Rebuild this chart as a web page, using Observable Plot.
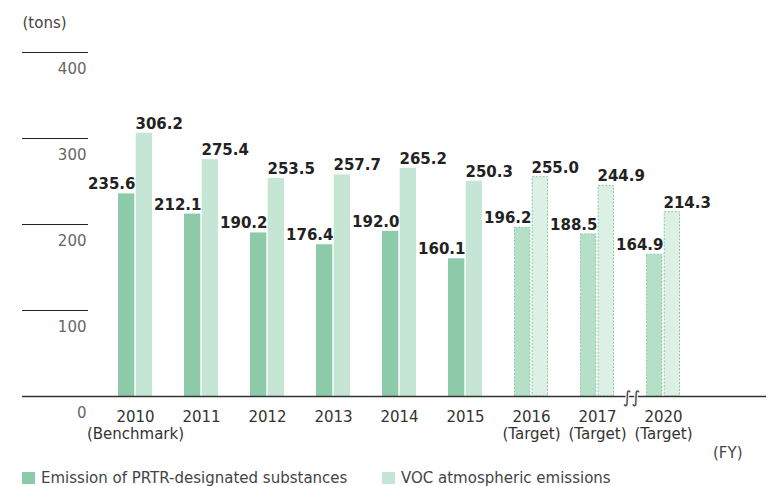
<!DOCTYPE html>
<html>
<head>
<meta charset="utf-8">
<script src="https://cdn.jsdelivr.net/npm/d3@7"></script>
<script src="https://cdn.jsdelivr.net/npm/@observablehq/plot@0.6"></script>
<style>
  html, body { margin: 0; padding: 0; background: #fff; }
  #wrap { position: relative; width: 768px; height: 486px; font-family: "DejaVu Sans", sans-serif; }
  #legend { position: absolute; left: 22px; top: 469px; font-size: 15px; color: #444; white-space: nowrap; }
  #legend .item { position: absolute; top: 0; }
  #legend .sw { position: absolute; top: 3px; left: 0; width: 13px; height: 12px; }
  #legend .lb { position: absolute; left: 19px; top: 0; line-height: 18px; }
</style>
</head>
<body>
<div id="wrap"></div>
<script>
const years = ["2010","2011","2012","2013","2014","2015","2016","2017","2020"];
const yearNotes = ["(Benchmark)","","","","","","(Target)","(Target)","(Target)"];
const prtr = [235.6, 212.1, 190.2, 176.4, 192.0, 160.1, 196.2, 188.5, 164.9];
const voc  = [306.2, 275.4, 253.5, 257.7, 265.2, 250.3, 255.0, 244.9, 214.3];
const isTarget = [false, false, false, false, false, false, true, true, true];
const yTicks = [0, 100, 200, 300, 400];
const seriesNames = ["Emission of PRTR-designated substances", "VOC atmospheric emissions"];

const C1 = "#8ccaa9", C2 = "#c6e6d5", C1t = "#b6dfc8", C2t = "#dcf0e5", Cdash = "#86c9a2";
const idx = years.map((_, i) => i);
const actual = idx.filter(i => !isTarget[i]);
const target = idx.filter(i => isTarget[i]);
const half = 33.9 / 2 + 0.75;
const font = "DejaVu Sans, sans-serif";

const chart = Plot.plot({
  width: 768,
  height: 486,
  marginTop: 52,
  marginBottom: 90,
  marginLeft: 22,
  marginRight: 2,
  style: { fontFamily: font, background: "#fff" },
  x: { type: "band", domain: years, range: [83.6, 713.7], padding: 0.49, axis: null },
  y: { domain: [0, 400], range: [396, 52], axis: null },
  marks: [
    Plot.ruleY(yTicks.filter(d => d > 0), { stroke: "#222", strokeWidth: 1, insetRight: 766 - 88 }),
    Plot.text(yTicks, { y: d => d, text: d => String(d), frameAnchor: "left", textAnchor: "end", lineAnchor: "bottom", dx: 64, dy: 21.5, fontSize: 15, fill: "#666" }),
    Plot.barY(actual, { x: i => years[i], y: i => prtr[i], fill: C1, insetRight: half }),
    Plot.barY(actual, { x: i => years[i], y: i => voc[i], fill: C2, insetLeft: half }),
    Plot.barY(target, { x: i => years[i], y: i => prtr[i], fill: C1t, stroke: Cdash, strokeDasharray: "2 1.5", insetRight: half + 0.5, insetLeft: 0.5 }),
    Plot.barY(target, { x: i => years[i], y: i => voc[i], fill: C2t, stroke: Cdash, strokeDasharray: "2 1.5", insetLeft: half + 0.5, insetRight: 0.5 }),
    Plot.ruleY([0], { stroke: "#333", strokeWidth: 1.5 }),
    Plot.text(idx, { x: i => years[i], y: i => prtr[i], text: i => prtr[i].toFixed(1), textAnchor: "end", lineAnchor: "bottom", dx: 0, dy: -4.5, fontSize: 15, fontWeight: "bold", fill: "#222" }),
    Plot.text(idx, { x: i => years[i], y: i => voc[i], text: i => voc[i].toFixed(1), textAnchor: "start", lineAnchor: "bottom", dx: 0, dy: -4.5, fontSize: 15, fontWeight: "bold", fill: "#222" }),
    Plot.text(idx, { x: i => years[i], text: i => yearNotes[i] ? years[i] + "\n" + yearNotes[i] : years[i], frameAnchor: "bottom", lineAnchor: "top", dy: 14, lineHeight: 1.1, fontSize: 15, fill: "#333" }),
    Plot.text(["∫∫"], { x: () => "2020", frameAnchor: "bottom", text: d => d, lineAnchor: "middle", dx: -32, dy: 1, fontSize: 17, fill: "#444", stroke: "white", strokeWidth: 2, paintOrder: "stroke" }),
    Plot.text(["(tons)"], { frameAnchor: "top-left", text: d => d, textAnchor: "start", lineAnchor: "bottom", dy: -25, fontSize: 15, fill: "#444" }),
    Plot.text(["(FY)"], { frameAnchor: "bottom-right", text: d => d, textAnchor: "end", lineAnchor: "bottom", dx: -24, dy: 61, fontSize: 15, fill: "#444" })
  ]
});

const wrap = document.getElementById("wrap");
wrap.appendChild(chart);

const legend = document.createElement("div");
legend.id = "legend";
const swatches = [C1, C2];
const lefts = [0, 360];
seriesNames.forEach((name, k) => {
  const item = document.createElement("div");
  item.className = "item";
  item.style.left = lefts[k] + "px";
  item.innerHTML = `<span class="sw" style="background:${swatches[k]}"></span><span class="lb">${name}</span>`;
  legend.appendChild(item);
});
wrap.appendChild(legend);
</script>
</body>
</html>
